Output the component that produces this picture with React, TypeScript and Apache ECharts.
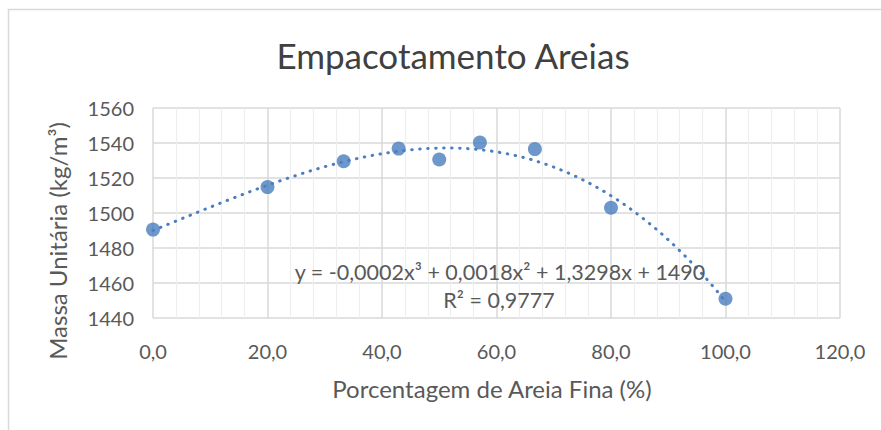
import React, { useEffect, useRef } from "react";
import * as echarts from "echarts";

const xValues = [0, 20, 33.3, 42.9, 50, 57.1, 66.7, 80, 100];
const yValues = [1490.5, 1514.8, 1529.6, 1536.8, 1530.6, 1540.3, 1536.5, 1503, 1451];
const xTicks = [0, 20, 40, 60, 80, 100, 120];
const yTicks = [1440, 1460, 1480, 1500, 1520, 1540, 1560];
const titleText = "Empacotamento Areias";
const xName = "Porcentagem de Areia Fina (%)";
const yName = "Massa Unitária (kg/m³)";
const equationText = "y = -0,0002x³ + 0,0018x² + 1,3298x + 1490";
const r2Text = "R² = 0,9777";

// least-squares cubic fit of the scatter data (like the spreadsheet trendline)
function cubicFit(xs: number[], ys: number[]): number[] {
  const n = 4;
  const A: number[][] = [];
  for (let i = 0; i < n; i++) {
    A.push(new Array(n + 1).fill(0));
    for (let j = 0; j < n; j++) {
      let s = 0;
      for (let k = 0; k < xs.length; k++) s += Math.pow(xs[k], i + j);
      A[i][j] = s;
    }
    let t = 0;
    for (let k = 0; k < xs.length; k++) t += ys[k] * Math.pow(xs[k], i);
    A[i][n] = t;
  }
  for (let c = 0; c < n; c++) {
    let p = c;
    for (let r = c + 1; r < n; r++) if (Math.abs(A[r][c]) > Math.abs(A[p][c])) p = r;
    [A[c], A[p]] = [A[p], A[c]];
    for (let r = 0; r < n; r++) {
      if (r === c) continue;
      const f = A[r][c] / A[c][c];
      for (let k = c; k <= n; k++) A[r][k] -= f * A[c][k];
    }
  }
  return A.map((row, i) => row[n] / row[i]);
}

export default function App() {
  const ref = useRef<HTMLDivElement>(null);
  useEffect(() => {
    if (!ref.current) return;
    const chart = echarts.init(ref.current, undefined, { renderer: "svg" });
    const coef = cubicFit(xValues, yValues);
    const xMin = xValues[0];
    const xMax = xValues[xValues.length - 1];
    const trend: number[][] = [];
    for (let x = xMin; x <= xMax; x += 1) {
      trend.push([x, coef[0] + coef[1] * x + coef[2] * x * x + coef[3] * x * x * x]);
    }
    const font = "Lato, 'Open Sans', sans-serif";
    const gray = "#595959";
    chart.setOption({
      animation: false,
      backgroundColor: "#ffffff",
      grid: { left: 153, right: 41, top: 108, bottom: 112, containLabel: false },
      xAxis: {
        type: "value",
        min: xTicks[0],
        max: xTicks[xTicks.length - 1],
        interval: 20,
        axisLine: { show: false },
        axisTick: { show: false },
        axisLabel: {
          color: gray,
          fontFamily: font,
          fontSize: 20,
          margin: 23,
          formatter: (v: number) => v.toFixed(1).replace(".", ","),
        },
        splitLine: { show: true, lineStyle: { color: "#d9d9d9", width: 1.5 } },
        minorTick: { show: false, splitNumber: 5 },
        minorSplitLine: { show: true, lineStyle: { color: "#eeeeee", width: 1.2 } },
      },
      yAxis: {
        type: "value",
        min: yTicks[0],
        max: yTicks[yTicks.length - 1],
        interval: 20,
        axisLine: { show: false },
        axisTick: { show: false },
        axisLabel: {
          color: gray,
          fontFamily: font,
          fontSize: 20,
          margin: 19,
          formatter: (v: number) => String(v),
        },
        splitLine: { show: true, lineStyle: { color: "#d9d9d9", width: 1.5 } },
      },
      graphic: [
        {
          type: "rect",
          shape: { x: 8.5, y: 9.5, width: 1000, height: 1000 },
          style: { fill: "none", stroke: "#d9d9d9", lineWidth: 1.5 },
          z: -1,
        },
        {
          type: "text",
          x: 453,
          y: 55,
          style: {
            text: titleText,
            fontFamily: font,
            fontSize: 35,
            fill: "#404040",
            align: "center",
            verticalAlign: "middle",
          },
        },
        {
          type: "text",
          x: 492,
          y: 388,
          style: {
            text: xName,
            fontFamily: font,
            fontSize: 24,
            fill: gray,
            align: "center",
            verticalAlign: "middle",
          },
        },
        {
          type: "text",
          x: 57,
          y: 241,
          rotation: Math.PI / 2,
          style: {
            text: yName,
            fontFamily: font,
            fontSize: 24,
            fill: gray,
            align: "center",
            verticalAlign: "middle",
          },
        },
        {
          type: "text",
          x: 500,
          y: 272,
          z: 10,
          style: {
            text: equationText,
            fontFamily: font,
            fontSize: 21.5,
            fill: gray,
            align: "center",
            verticalAlign: "middle",
          },
        },
        {
          type: "text",
          x: 499,
          y: 300,
          z: 10,
          style: {
            text: r2Text,
            fontFamily: font,
            fontSize: 21.5,
            fill: gray,
            align: "center",
            verticalAlign: "middle",
          },
        },
      ],
      series: [
        {
          type: "line",
          data: trend,
          showSymbol: false,
          symbol: "none",
          smooth: false,
          lineStyle: { color: "#4a7ebf", width: 3, type: [0.5, 7.5], cap: "round" },
          z: 2,
        },
        {
          type: "scatter",
          data: xValues.map((x, i) => [x, yValues[i]]),
          symbol: "circle",
          symbolSize: 14,
          itemStyle: { color: "#4a7ebf" },
          z: 3,
        },
      ],
    });
    return () => chart.dispose();
  }, []);
  return (
    <div
      ref={ref}
      style={{ position: "fixed", left: 0, top: 0, width: 881, height: 430 }}
    />
  );
}
